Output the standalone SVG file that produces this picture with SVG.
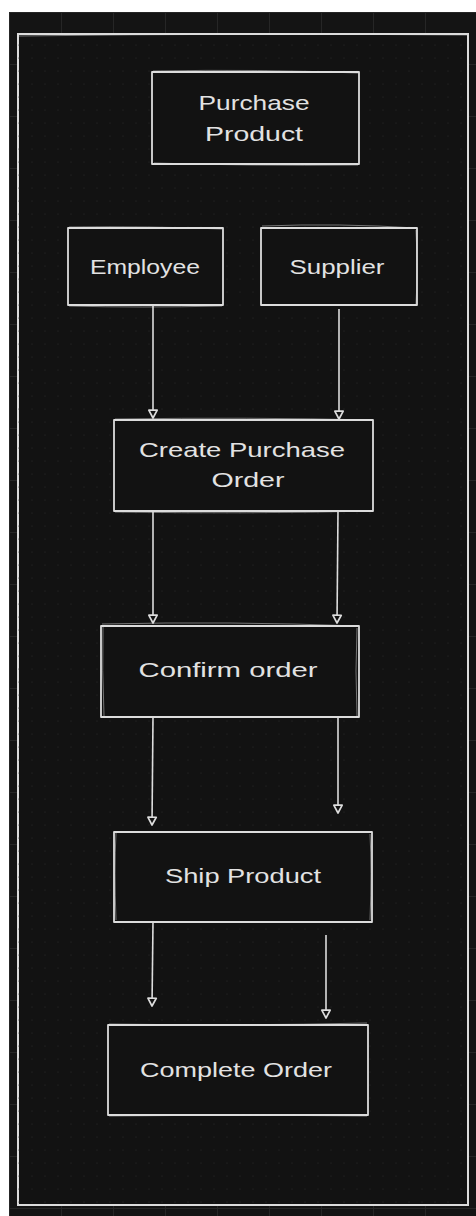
<svg xmlns="http://www.w3.org/2000/svg" width="476" height="1216" viewBox="0 0 476 1216">
<defs>
<pattern id="dots" x="0" y="0" width="13" height="13" patternUnits="userSpaceOnUse">
<circle cx="6" cy="6" r="0.6" fill="#2a2a2a"/>
</pattern>
<pattern id="grid" x="9" y="12" width="52" height="52" patternUnits="userSpaceOnUse">
<path d="M0 0.5 H52 M0.5 0 V52" stroke="#262626" stroke-width="1" fill="none"/>
</pattern>
<marker id="arr" markerWidth="12" markerHeight="12" refX="8" refY="5" orient="auto" markerUnits="userSpaceOnUse" viewBox="0 0 10 10">
<path d="M1.5 1.5 L8 5 L1.5 8.5 Z" fill="#121212" stroke="#dcdcdc" stroke-width="1.4" stroke-linejoin="round"/>
</marker>
</defs>
<style>
.box{fill:#121212;stroke:#dcdcdc;stroke-width:1.8;stroke-linejoin:round}
.sk{fill:none;stroke:#dcdcdc;stroke-width:0.9;opacity:0.55}
.lbl{font-family:"Liberation Sans","DejaVu Sans",sans-serif;font-size:21px;fill:#e2e2e2;text-anchor:middle}
.con{fill:none;stroke:#dcdcdc;stroke-width:1.6}
</style>
<rect x="0" y="0" width="476" height="1216" fill="#ffffff"/>
<rect x="9" y="12" width="467" height="1204" fill="#141414"/>
<rect x="9" y="12" width="467" height="1204" fill="url(#grid)"/>
<g id="frame">
<rect x="18" y="34" width="450" height="1171" fill="#121212" stroke="#dcdcdc" stroke-width="2"/>
<rect x="18" y="34" width="450" height="1171" fill="url(#dots)"/>
<path class="sk" d="M19 36 Q240 33 467 35"/>
</g>
<g id="purchase-product">
<rect class="box" x="152" y="72" width="207" height="92"/>
<path class="sk" d="M153 71 Q260 69 358 73 M154 163 Q250 166 358 165"/>
<text class="lbl" x="254" y="110" textLength="111" lengthAdjust="spacingAndGlyphs">Purchase</text>
<text class="lbl" x="254" y="141" textLength="98" lengthAdjust="spacingAndGlyphs">Product</text>
</g>
<g id="employee">
<rect class="box" x="68" y="228" width="155" height="77"/>
<path class="sk" d="M69 227 Q150 226 222 229 M69 306 Q140 308 222 306"/>
<text class="lbl" x="145" y="274" textLength="110" lengthAdjust="spacingAndGlyphs">Employee</text>
</g>
<g id="supplier">
<rect class="box" x="261" y="228" width="156" height="77"/>
<path class="sk" d="M262 226 Q340 223 416 228 M416 230 Q418 270 416 304"/>
<text class="lbl" x="337" y="274" textLength="95" lengthAdjust="spacingAndGlyphs">Supplier</text>
</g>
<g id="create-purchase-order">
<rect class="box" x="114" y="420" width="259" height="91"/>
<path class="sk" d="M115 419 Q250 417 372 420 M115 512 Q250 514 372 511"/>
<text class="lbl" x="242" y="457" textLength="206" lengthAdjust="spacingAndGlyphs">Create Purchase</text>
<text class="lbl" x="248" y="487" textLength="73" lengthAdjust="spacingAndGlyphs">Order</text>
</g>
<g id="confirm-order">
<rect class="box" x="101" y="626" width="258" height="91"/>
<path class="sk" d="M102 624 Q230 621 358 626 M103 627 Q102 670 104 716 M357 628 Q355 670 357 716"/>
<text class="lbl" x="228" y="677" textLength="179" lengthAdjust="spacingAndGlyphs">Confirm order</text>
</g>
<g id="ship-product">
<rect class="box" x="114" y="832" width="258" height="90"/>
<path class="sk" d="M116 833 Q114 870 116 920 M370 834 Q372 870 370 920"/>
<text class="lbl" x="243" y="883" textLength="156" lengthAdjust="spacingAndGlyphs">Ship Product</text>
</g>
<g id="complete-order">
<rect class="box" x="108" y="1025" width="260" height="90"/>
<path class="sk" d="M109 1024 Q240 1026 367 1023 M109 1116 Q240 1114 367 1116"/>
<text class="lbl" x="236" y="1077" textLength="192" lengthAdjust="spacingAndGlyphs">Complete Order</text>
</g>
<g id="connectors">
<path class="con" d="M153 305 L153 418" marker-end="url(#arr)"/>
<path class="con" d="M339 309 L339 419" marker-end="url(#arr)"/>
<path class="con" d="M153 511 L153 623" marker-end="url(#arr)"/>
<path class="con" d="M338 511 L337 623" marker-end="url(#arr)"/>
<path class="con" d="M153 717 L152 825" marker-end="url(#arr)"/>
<path class="con" d="M338 717 L338 813" marker-end="url(#arr)"/>
<path class="con" d="M153 922 L152 1006" marker-end="url(#arr)"/>
<path class="con" d="M326 935 L326 1018" marker-end="url(#arr)"/>
</g>
</svg>
